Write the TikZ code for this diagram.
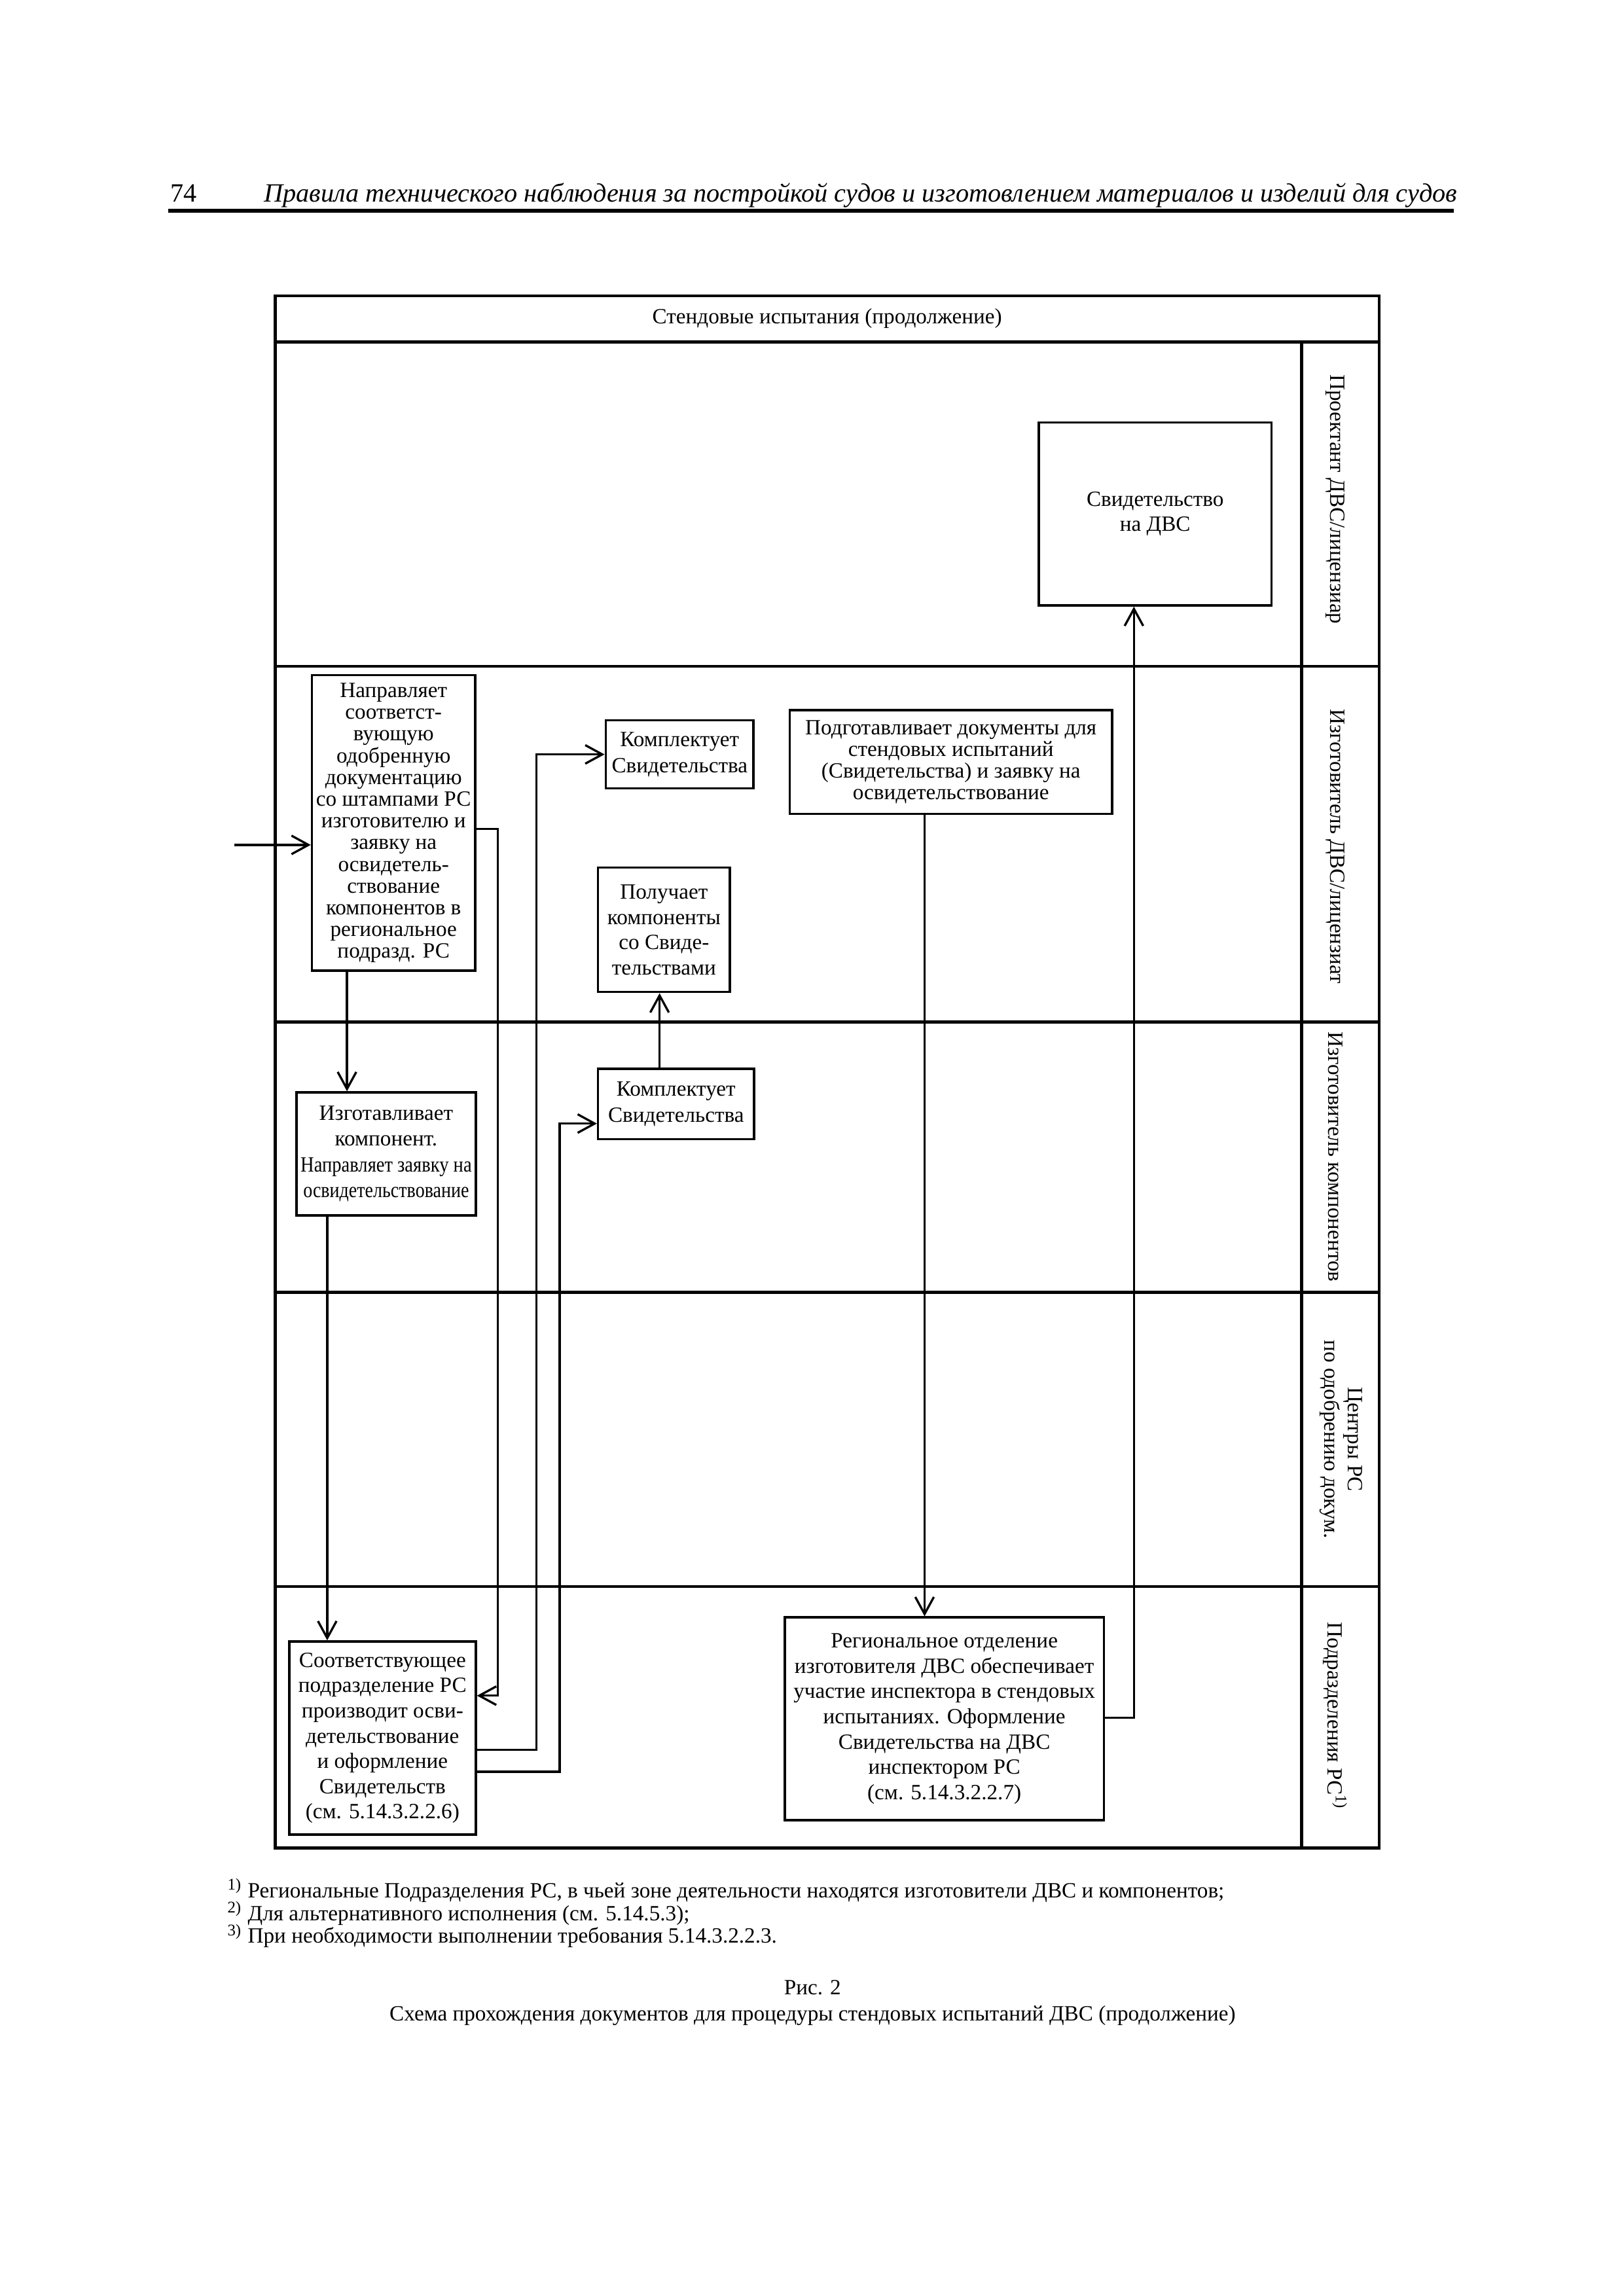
\documentclass[tikz,border=0pt]{standalone}
\usepackage{fontspec}
\setmainfont{Liberation Serif}
\usepackage{graphicx}
\usetikzlibrary{arrows.meta}
\def\pxu{0.18936mm}
\newcommand\bfnt[1]{\fontsize{8}{#1}\selectfont}
\begin{document}
\begin{tikzpicture}[x=0.18936mm, y=-0.18941mm,
  box/.style={draw, line width=0.85pt, inner sep=0pt, align=center},
  sz/.style 2 args={minimum width=#1*\pxu, minimum height=#2*\pxu},
  arr/.style={line width=0.8pt, -{Straight Barb[length=2.2mm,width=2.4mm,line width=0.8pt]}},
  frame/.style={line width=1.05pt},
  lbl/.style={rotate=-90, font=\fontsize{8}{8.8}\selectfont, align=center, inner sep=0pt},
  txt/.style={font=\fontsize{8}{9}\selectfont, inner sep=0pt}]
\useasboundingbox (0,0) rectangle (1109,1568);

% header
\node[anchor=base west, font=\fontsize{9.7}{12}\selectfont, inner sep=0pt] (pnum) at (116,138) {74};
\node[anchor=base west, font=\fontsize{9.7}{12}\selectfont\itshape, inner sep=0pt] (htitle) at (180,138) {Правила технического наблюдения за постройкой судов и изготовлением материалов и изделий для судов};
\draw[line width=1.4pt] (115,144) -- (993,144);

% frame and lanes
\draw[frame] (188,202) rectangle (942,1262);
\draw[frame] (188,233.5) -- (942,233.5);
\draw[frame] (889,233.5) -- (889,1262);
\foreach \yy in {455,698,882.5,1083.5} \draw[frame] (188,\yy) -- (942,\yy);

\node[txt] (title) at (565,217.5) {Стендовые испытания (продолжение)};

% lane labels
\node[lbl] (L1) at (912,341) {Проектант ДВС/лицензиар};
\node[lbl] (L2) at (912,578) {Изготовитель ДВС/лицензиат};
\node[lbl] (L3) at (912,790) {Изготовитель компонентов};
\node[lbl] (L4) at (916,983) {Центры РС\\по одобрению докум.};
\node[lbl] (L5) at (912,1172) {Подразделения РС\textsuperscript{1)}};

% boxes
\node[box, sz={159}{125}, font=\bfnt{9.2pt}] (B1) at (789,351) {Свидетельство\\на ДВС};
\node[box, sz={111.5}{202}, font=\bfnt{8pt}] (A1) at (268.8,562) {Направляет\\соответст-\\вующую\\одобренную\\документацию\\со штампами РС\\изготовителю и\\заявку на\\освидетель-\\ствование\\компонентов в\\региональное\\подразд. РС};
\node[box, sz={101}{46.5}, font=\bfnt{9.6pt}] (K1) at (464.2,515.2) {Комплектует\\Свидетельства};
\node[box, sz={220}{71}, font=\bfnt{8pt}] (P1) at (649.5,520.4) {Подготавливает документы для\\стендовых испытаний\\(Свидетельства) и заявку на\\освидетельствование};
\node[box, sz={90}{85}, font=\bfnt{9.3pt}] (G1) at (453.5,635) {Получает\\компоненты\\со Свиде-\\тельствами};
\node[box, sz={122.5}{84}, font=\bfnt{9.5pt}] (I1) at (263.75,788) {Изготавливает\\компонент.\\\resizebox{63pt}{\height}{Направляет заявку на}\\\resizebox{61pt}{\height}{освидетельствование}};
\node[box, sz={106.5}{48}, font=\bfnt{9.6pt}] (K2) at (461.75,754) {Комплектует\\Свидетельства};
\node[box, sz={127.5}{132}, font=\bfnt{9.3pt}] (S1) at (261.25,1187) {Соответствующее\\подразделение РС\\производит осви-\\детельствование\\и оформление\\Свидетельств\\(см. 5.14.3.2.2.6)};
\node[box, sz={218}{138.5}, font=\bfnt{9.3pt}] (R1) at (645,1173.8) {Региональное отделение\\изготовителя ДВС обеспечивает\\участие инспектора в стендовых\\испытаниях. Оформление\\Свидетельства на ДВС\\инспектором РС\\(см. 5.14.3.2.2.7)};

% routing coordinates
\coordinate (inA) at (160,577);
\coordinate (xA) at (237,0);
\coordinate (xI) at (223.5,0);
\coordinate (xL1) at (340,0);
\coordinate (xL2) at (366.5,0);
\coordinate (xL3) at (382.3,0);
\coordinate (xG) at (450.5,0);
\coordinate (xP) at (631.5,0);
\coordinate (xR) at (774.5,0);
\coordinate (yA) at (0,566);
\coordinate (ySin) at (0,1158);
\coordinate (yS1) at (0,1195);
\coordinate (yS2) at (0,1210);
\coordinate (yK2) at (0,767.3);
\coordinate (yR) at (0,1173);

% connectors
\draw[arr] (inA) -- (inA -| A1.west);
\draw[arr] (A1.south -| xA) -- (I1.north -| xA);
\draw[arr] (A1.east |- yA) -| (xL1 |- ySin) -- (S1.east |- ySin);
\draw[arr] (I1.south -| xI) -- (S1.north -| xI);
\draw[arr] (S1.east |- yS1) -| (xL2 |- K1.west) -- (K1.west);
\draw[arr] (S1.east |- yS2) -| (xL3 |- yK2) -- (K2.west |- yK2);
\draw[arr] (K2.north -| xG) -- (G1.south -| xG);
\draw[arr] (P1.south -| xP) -- (R1.north -| xP);
\draw[arr] (R1.east |- yR) -| (B1.south -| xR);

% footnotes and caption
\node[txt, anchor=base west] (fn1) at (155,1296) {\textsuperscript{1)} Региональные Подразделения РС, в чьей зоне деятельности находятся изготовители ДВС и компонентов;};
\node[txt, anchor=base west] (fn2) at (155,1311.5) {\textsuperscript{2)} Для альтернативного исполнения (см. 5.14.5.3);};
\node[txt, anchor=base west] (fn3) at (155,1327) {\textsuperscript{3)} При необходимости выполнении требования 5.14.3.2.2.3.};
\node[txt, anchor=base] (cap1) at (555,1362) {Рис. 2};
\node[txt, anchor=base] (cap2) at (555,1380) {Схема прохождения документов для процедуры стендовых испытаний ДВС (продолжение)};
\end{tikzpicture}
\end{document}
